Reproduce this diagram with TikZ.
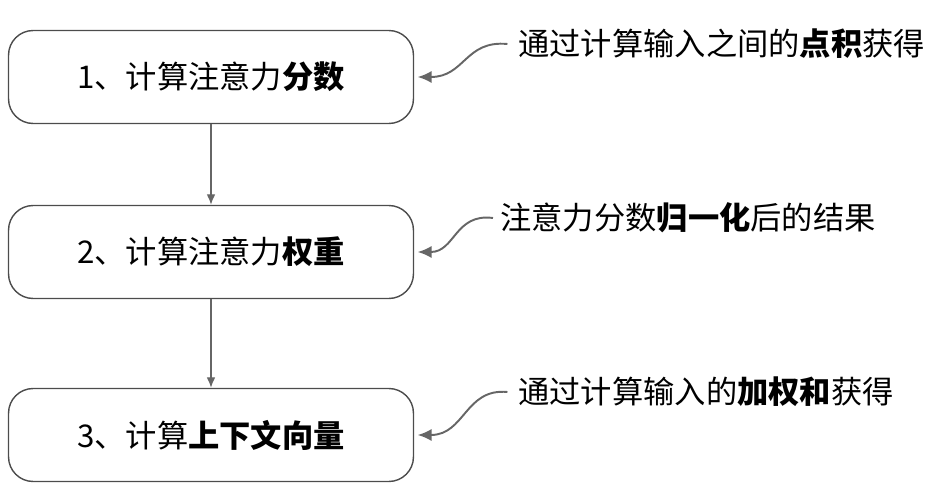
\documentclass[tikz,border=0pt]{standalone}
\usepackage{fontspec}
\setmainfont{Noto Sans CJK SC}
\usetikzlibrary{positioning,arrows.meta}
\tikzset{
  stage/.style={draw=black!70, line width=0.8pt, rounded corners=14pt,
    minimum width=8.1cm, minimum height=1.86cm, font=\fontsize{17.8}{20}\selectfont},
  note/.style={anchor=west, inner sep=0pt, font=\fontsize{17.8}{20}\selectfont},
  flow/.style={-{Latex[length=6pt,width=5pt]}, draw=black!60, line width=0.8pt},
  hint/.style={-{Latex[length=8pt,width=7pt]}, draw=black!60, line width=1.1pt},
}
\begin{document}
\begin{tikzpicture}[x=0.02cm, y=-0.02cm]
\useasboundingbox (0,0) rectangle (950,486);

%Stages
\node [stage] (s1) at (211,77) {1、计算注意力\textbf{分数}};
\node [stage] (s2) at (211,252) {2、计算注意力\textbf{权重}};
\node [stage] (s3) at (211,435) {3、计算\textbf{上下文向量}};

\draw[flow] (s1.south) -- (s2.north);
\draw[flow] (s2.south) -- (s3.north);

%Notes
\node [note] (n1) at (518,44) {通过计算输入之间的\textbf{点积}获得};
\node [note] (n2) at (500,218) {注意力分数\textbf{归一化}后的结果};
\node [note] (n3) at (518,392) {通过计算输入的\textbf{加权和}获得};

\draw[hint] ([xshift=-6pt]n1.west) .. controls (465,40) and (465,77) .. ([xshift=2pt]s1.east);
\draw[hint] ([xshift=-4pt]n2.west) .. controls (455,213) and (455,252) .. ([xshift=2pt]s2.east);
\draw[hint] ([xshift=-6pt]n3.west) .. controls (465,388) and (465,435) .. ([xshift=2pt]s3.east);

\end{tikzpicture}
\end{document}
